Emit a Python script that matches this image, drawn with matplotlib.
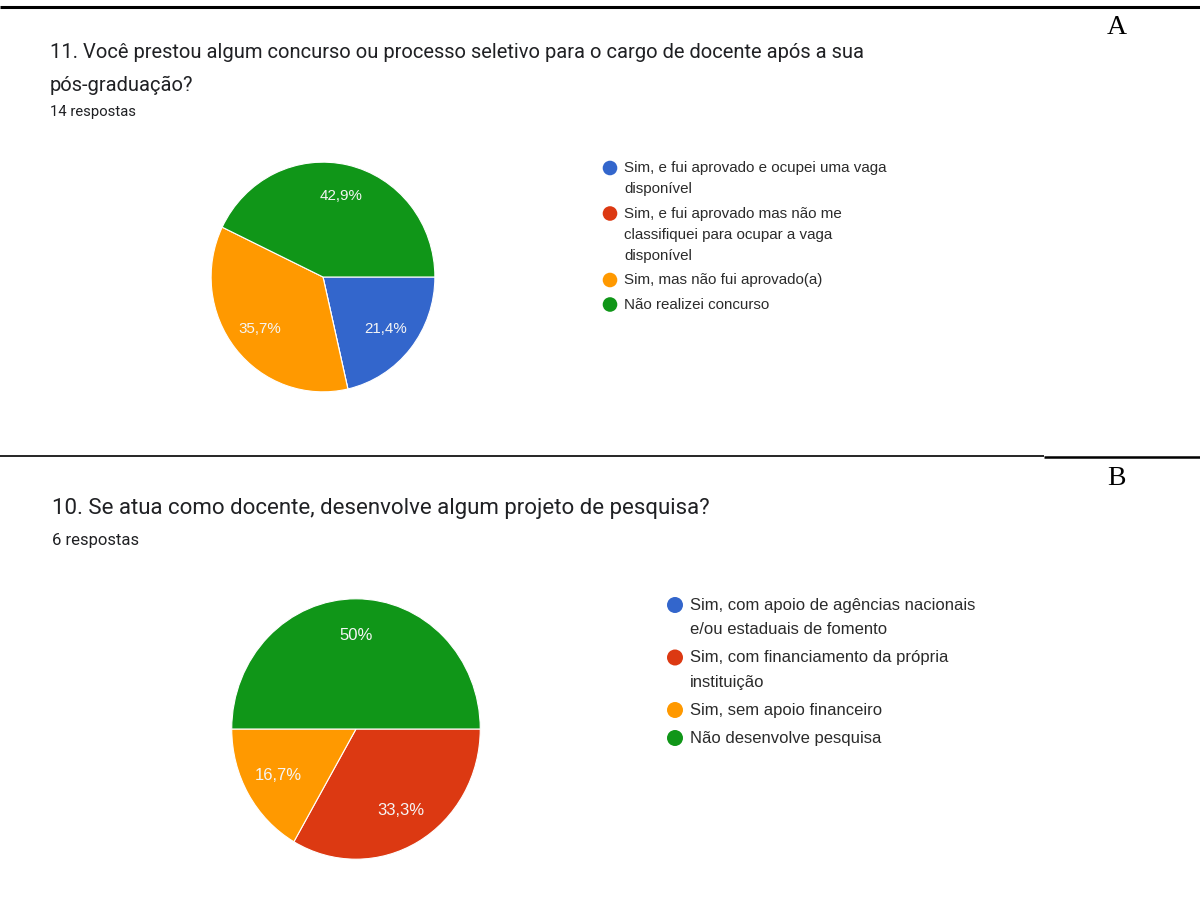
import matplotlib.pyplot as plt

W, H = 1200, 922

# pergunta 11
q11_titulo = [
    "11. Você prestou algum concurso ou processo seletivo para o cargo de docente após a sua",
    "pós-graduação?",
]
q11_total = "14 respostas"
q11_opcoes = [
    "Sim, e fui aprovado e ocupei uma vaga\ndisponível",
    "Sim, e fui aprovado mas não me\nclassifiquei para ocupar a vaga\ndisponível",
    "Sim, mas não fui aprovado(a)",
    "Não realizei concurso",
]
q11_respostas = [3, 0, 5, 6]

# pergunta 10
q10_titulo = ["10. Se atua como docente, desenvolve algum projeto de pesquisa?"]
q10_total = "6 respostas"
q10_opcoes = [
    "Sim, com apoio de agências nacionais\ne/ou estaduais de fomento",
    "Sim, com financiamento da própria\ninstituição",
    "Sim, sem apoio financeiro",
    "Não desenvolve pesquisa",
]
q10_respostas = [0, 2, 1, 3]

cores = ["#3366cc", "#dc3912", "#ff9900", "#109618"]

fig = plt.figure(figsize=(W / 100, H / 100), dpi=100)
fig.patch.set_facecolor("white")

# eixo de fundo em pixels, y cresce para baixo
bg = fig.add_axes([0, 0, 1, 1])
bg.set_xlim(0, W)
bg.set_ylim(H, 0)
bg.axis("off")


def rotulo(pct):
    if pct < 0.05:
        return ""
    s = f"{pct:.1f}".replace(".", ",")
    if s.endswith(",0"):
        s = s[:-2]
    return s + "%"


def pizza(cx, cy, rx, ry, valores, tamanho):
    ax = fig.add_axes([(cx - rx) / W, 1 - (cy + ry) / H, 2 * rx / W, 2 * ry / H])
    ax.pie(valores, colors=cores, startangle=0, counterclock=False,
           autopct=rotulo, pctdistance=0.72,
           wedgeprops=dict(edgecolor="white", linewidth=0.8),
           textprops=dict(color="#f5f5f5", fontsize=tamanho, family="Liberation Sans"))
    ax.set_aspect("auto")
    ax.set_xlim(-1.01, 1.01)
    ax.set_ylim(-1.01, 1.01)
    return ax


def legenda(x, y, opcoes, passo, intervalo, tamanho, raio):
    for cor, texto in zip(cores, opcoes):
        linhas = texto.split("\n")
        bg.add_patch(plt.Circle((x, y), raio, color=cor, lw=0))
        for i, linha in enumerate(linhas):
            bg.text(x + raio + 7, y + i * passo, linha, va="center", ha="left",
                    fontsize=tamanho, color="#2b2b2b", family="Liberation Sans")
        y += (len(linhas) - 1) * passo + intervalo


def cabecalho(x, y, linhas, total, tamanho, passo, y_total, tam_total):
    for i, linha in enumerate(linhas):
        bg.text(x, y + i * passo, linha, va="center", ha="left",
                fontsize=tamanho, color="#202124", family="Roboto")
    bg.text(x, y_total, total, va="center", ha="left",
            fontsize=tam_total, color="#202124", family="Roboto")


# linhas que separam os quadros
bg.plot([0, W], [7, 7], color="black", lw=2.2, solid_capstyle="butt")
bg.plot([0, 1044], [455.7, 455.7], color="black", lw=1.2, solid_capstyle="butt")
bg.plot([1044, W], [456.7, 456.7], color="black", lw=1.8, solid_capstyle="butt")

bg.text(1117, 28, "A", ha="center", va="center", fontsize=20,
        family="Liberation Serif", color="black")
bg.text(1116, 478, "B", ha="center", va="center", fontsize=20,
        family="Liberation Serif", color="black")

# quadro A
cabecalho(50, 52, q11_titulo, q11_total, 14.5, 33, 112, 10.7)
pizza(323, 277, 113, 116, q11_respostas, 10.9)
legenda(610, 168, q11_opcoes, 21, 24.5, 10.9, 7.3)

# quadro B
cabecalho(52, 508, q10_titulo, q10_total, 16, 33, 540, 12)
pizza(356, 729, 125.5, 131.5, q10_respostas, 12)
legenda(675, 605, q10_opcoes, 24.5, 28, 12, 8)

fig.savefig("out.png", dpi=100)
